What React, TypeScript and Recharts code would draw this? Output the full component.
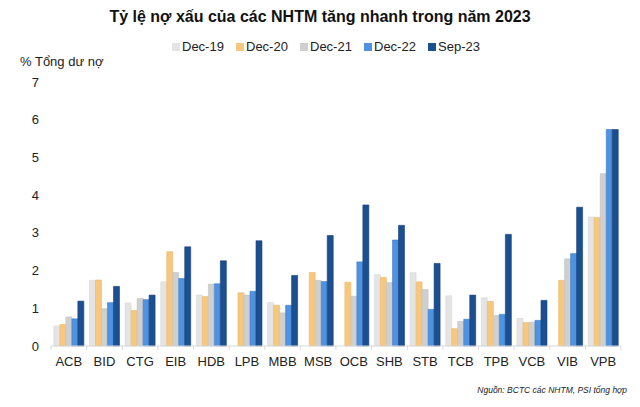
import React from "react";
import { BarChart, Bar, XAxis, YAxis } from "recharts";

const banks = ["ACB", "BID", "CTG", "EIB", "HDB", "LPB", "MBB", "MSB", "OCB", "SHB", "STB", "TCB", "TPB", "VCB", "VIB", "VPB"];
const dec19 = [0.53, 1.74, 1.14, 1.7, 1.35, null, 1.15, null, null, 1.89, 1.94, 1.33, 1.28, 0.73, null, 3.42];
const dec20 = [0.57, 1.75, 0.94, 2.5, 1.31, 1.41, 1.08, 1.95, 1.69, 1.82, 1.7, 0.46, 1.18, 0.62, 1.74, 3.41];
const dec21 = [0.77, 0.99, 1.26, 1.95, 1.64, 1.35, 0.88, 1.74, 1.32, 1.68, 1.5, 0.65, 0.81, 0.63, 2.31, 4.57];
const dec22 = [0.72, 1.15, 1.23, 1.79, 1.65, 1.45, 1.08, 1.71, 2.23, 2.81, 0.97, 0.71, 0.84, 0.68, 2.45, 5.74];
const sep23 = [1.19, 1.58, 1.35, 2.63, 2.26, 2.79, 1.87, 2.93, 3.74, 3.2, 2.19, 1.35, 2.96, 1.21, 3.68, 5.74];
const yTicks = [0, 1, 2, 3, 4, 5, 6, 7];

const series = [
  { key: "dec19", name: "Dec-19", color: "#e4e4e4", stroke: "#d6d6d6" },
  { key: "dec20", name: "Dec-20", color: "#f7c77d", stroke: "#eab96c" },
  { key: "dec21", name: "Dec-21", color: "#cfcfcf", stroke: "#c2c2c2" },
  { key: "dec22", name: "Dec-22", color: "#4f92e0", stroke: "#3f80cc" },
  { key: "sep23", name: "Sep-23", color: "#1c4f90", stroke: "#143f78" },
];

const data = banks.map((b, i) => ({
  bank: b,
  dec19: dec19[i],
  dec20: dec20[i],
  dec21: dec21[i],
  dec22: dec22[i],
  sep23: sep23[i],
}));

const font = "'Liberation Sans', Arial, sans-serif";

function BankTick(props: any) {
  const { x, y, payload, index } = props;
  const half = payload && payload.offset ? payload.offset : 17.8;
  return (
    <g>
      {index === 0 && <line x1={x - half} y1={y - 8} x2={x - half} y2={y - 4} stroke="#d9d9d9" />}
      <line x1={x + half} y1={y - 8} x2={x + half} y2={y - 4} stroke="#d9d9d9" />
      <text x={x} y={y + 12} textAnchor="middle" fontSize={13} fill="#222" fontFamily={font}>
        {payload.value}
      </text>
    </g>
  );
}

function App() {
  return (
    <div style={{ position: "absolute", left: 0, top: 0, width: 640, height: 407, background: "#fff", fontFamily: font }}>
      <div style={{ position: "absolute", top: 8, width: 640, textAlign: "center", fontSize: 16, fontWeight: "bold", color: "#111" }}>
        Tỷ lệ nợ xấu của các NHTM tăng nhanh trong năm 2023
      </div>
      <div style={{ position: "absolute", top: 39, left: 172, display: "flex", fontSize: 13, color: "#222" }}>
        {series.map((s) => (
          <div key={s.key} style={{ display: "flex", alignItems: "center", width: 64 }}>
            <span style={{ display: "inline-block", width: 8, height: 8, background: s.color, marginRight: 2 }} />
            <span>{s.name}</span>
          </div>
        ))}
      </div>
      <div style={{ position: "absolute", top: 54, left: 20, fontSize: 13, color: "#222" }}>% Tổng dư nợ</div>
      <div style={{ position: "absolute", top: 385, right: 13, fontSize: 8.5, fontStyle: "italic", color: "#222" }}>
        Nguồn: BCTC các NHTM, PSI tổng hợp
      </div>
      <BarChart
        width={640}
        height={407}
        data={data}
        margin={{ top: 82, right: 19, bottom: 31, left: 0 }}
        barGap={0}
        barCategoryGap="8%"
      >
        <XAxis
          dataKey="bank"
          axisLine={{ stroke: "#d9d9d9" }}
          tickLine={false}
          tick={<BankTick />}
          interval={0}
        />
        <YAxis
          domain={[0, 7]}
          ticks={yTicks}
          axisLine={false}
          tickLine={false}
          width={51}
          tickMargin={6}
          tick={{ fontSize: 13, fill: "#222", fontFamily: font }}
        />
        {series.map((s) => (
          <Bar
            key={s.key}
            dataKey={s.key}
            name={s.name}
            fill={s.color}
            stroke={s.stroke}
            strokeWidth={0.6}
            isAnimationActive={false}
          />
        ))}
      </BarChart>
    </div>
  );
}

export default App;
